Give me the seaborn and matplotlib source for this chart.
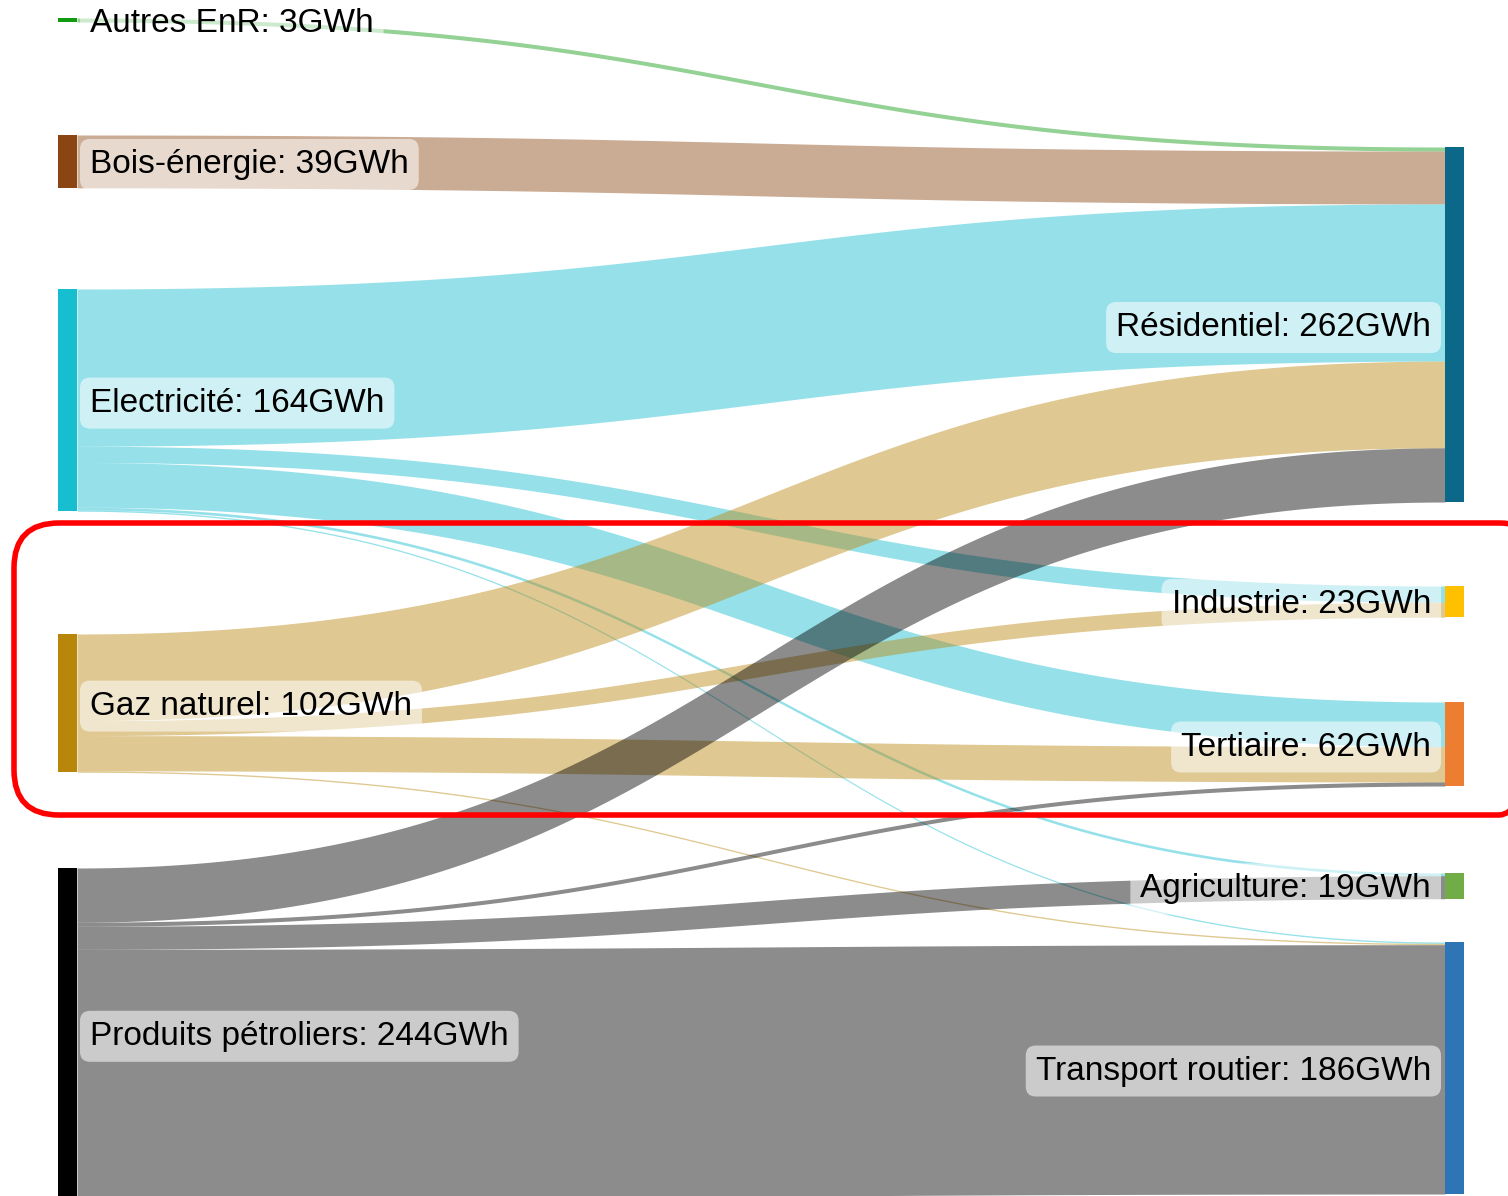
import numpy as np
import matplotlib.pyplot as plt
from matplotlib.patches import Rectangle, FancyBboxPatch
import seaborn as sns

# === Données (GWh) ===
sources = ["Autres EnR", "Bois-énergie", "Electricité", "Gaz naturel", "Produits pétroliers"]
targets = ["Résidentiel", "Industrie", "Tertiaire", "Agriculture", "Transport routier"]

# flux de chaque source vers les cibles, dans l'ordre de `targets`
flux_autres = [3, 0, 0, 0, 0]
flux_bois = [39, 0, 0, 0, 0]
flux_elec = [116, 12, 33, 2, 1]
flux_gaz = [64, 11, 26, 0, 1]
flux_petrole = [40, 0, 3, 17, 184]

source_colors = ["#129a12", "#8b4513", "#17becf", "#b8860b", "#000000"]
target_colors = ["#0b6889", "#ffc000", "#ed7d31", "#70ad47", "#2e75b6"]

# === Mise en page (pixels) ===
W, H = 1508, 1196
scale = 1.355          # px par GWh
node_w = 19
x_left, x_right = 58, 1445
left_tops = [18, 135, 289, 634, 868]
right_tops = [147, 586, 702, 873, 942]

flows = np.array([flux_autres, flux_bois, flux_elec, flux_gaz, flux_petrole], dtype=float)
src_tot = flows.sum(axis=1)
tgt_tot = flows.sum(axis=0)

sns.set_theme(style="white")
plt.rcParams["font.family"] = ["Liberation Sans", "DejaVu Sans"]

fig = plt.figure(figsize=(W / 100, H / 100), dpi=100)
ax = fig.add_axes([0, 0, 1, 1])
ax.set_xlim(0, W)
ax.set_ylim(H, 0)
ax.axis("off")


def bezier(x0, x1, y0, y1, n=120):
    t = np.linspace(0, 1, n)
    xm = (x0 + x1) / 2
    x = (1 - t) ** 3 * x0 + 3 * (1 - t) ** 2 * t * xm + 3 * (1 - t) * t ** 2 * xm + t ** 3 * x1
    y = (1 - t) ** 3 * y0 + 3 * (1 - t) ** 2 * t * y0 + 3 * (1 - t) * t ** 2 * y1 + t ** 3 * y1
    return x, y


# === Liens ===
src_off = [0.0] * len(sources)
tgt_off = [0.0] * len(targets)
for i in range(len(sources)):
    for j in range(len(targets)):
        v = flows[i, j]
        if v <= 0:
            continue
        h = v * scale
        y0 = left_tops[i] + src_off[i]
        y1 = right_tops[j] + tgt_off[j]
        x, ytop = bezier(x_left + node_w, x_right, y0, y1)
        _, ybot = bezier(x_left + node_w, x_right, y0 + h, y1 + h)
        ax.fill_between(x, ytop, ybot, color=source_colors[i], alpha=0.45, lw=0)
        src_off[i] += h
        tgt_off[j] += h

# === Noeuds ===
for i, name in enumerate(sources):
    ax.add_patch(Rectangle((x_left, left_tops[i]), node_w, src_tot[i] * scale,
                           color=source_colors[i], lw=0))
for j, name in enumerate(targets):
    ax.add_patch(Rectangle((x_right, right_tops[j]), node_w, tgt_tot[j] * scale,
                           color=target_colors[j], lw=0))

# === Etiquettes ===
box = dict(boxstyle="round,pad=0.3,rounding_size=0.3", fc="white", alpha=0.55, ec="none")
for i, name in enumerate(sources):
    yc = left_tops[i] + src_tot[i] * scale / 2 + 3
    ax.text(x_left + node_w + 13, yc, f"{name}: {int(src_tot[i])}GWh", fontsize=24,
            ha="left", va="center", color="black", bbox=box)
for j, name in enumerate(targets):
    yc = right_tops[j] + tgt_tot[j] * scale / 2 + 3
    ax.text(x_right - 14, yc, f"{name}: {int(tgt_tot[j])}GWh", fontsize=24,
            ha="right", va="center", color="black", bbox=box)

# cadre rouge d'annotation
ax.add_patch(FancyBboxPatch((14, 523), 1530, 292,
                            boxstyle="round,pad=0,rounding_size=45",
                            fc="none", ec="red", lw=4, zorder=5))

fig.savefig("out.png", dpi=100)
